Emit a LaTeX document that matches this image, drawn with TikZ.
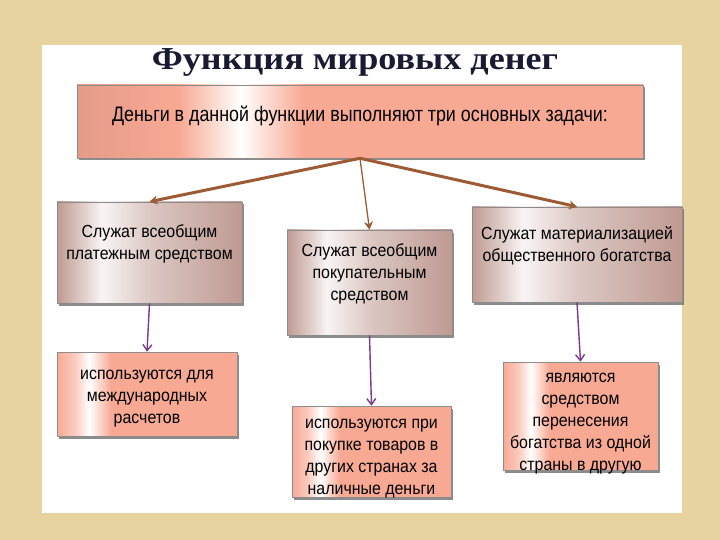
\documentclass[tikz,border=0pt]{standalone}
\usepackage{fontspec}
\setmainfont{Liberation Sans}[FakeStretch=0.91]
\newfontfamily\taskfont{Liberation Sans}[FakeStretch=0.85]
\newfontfamily\titlefont{Liberation Serif}[FakeStretch=1.13]
\usetikzlibrary{arrows.meta,shadows}

\definecolor{paper}{HTML}{E6D3A0}
\definecolor{salmon}{HTML}{F8A994}
\definecolor{mauve}{HTML}{BF9A92}
\definecolor{brownline}{HTML}{9C5A35}
\definecolor{purpleline}{HTML}{7D3A8C}
\definecolor{navy}{HTML}{1A1A33}

\pgfdeclarehorizontalshading{topglow}{100bp}{color(0bp)=(salmon!92!black); color(25bp)=(salmon!92!black); color(34bp)=(salmon); color(39.5bp)=(white); color(45bp)=(salmon); color(75bp)=(salmon); color(100bp)=(salmon)}
\pgfdeclarehorizontalshading{mauveglow}{100bp}{color(0bp)=(mauve); color(25bp)=(mauve); color(32bp)=(mauve!50!white); color(37bp)=(mauve!10!white); color(50bp)=(mauve!55!white); color(75bp)=(mauve); color(100bp)=(mauve)}
\pgfdeclarehorizontalshading{salmonglow}{100bp}{color(0bp)=(salmon); color(25bp)=(salmon); color(30bp)=(salmon!60!white); color(34bp)=(white); color(40bp)=(salmon); color(75bp)=(salmon); color(100bp)=(salmon)}

\begin{document}
\begin{tikzpicture}
	 [x=1pt,y=-1pt,
	 every node/.style={align=center,inner sep=0pt,font=\fontsize{17.5}{22}\selectfont},
	 box/.style={draw=black!45,line width=.6pt,
	   drop shadow={shadow xshift=1.5pt,shadow yshift=-2.5pt,fill=black!60,opacity=.75}},
	 taskbox/.style={box,shading=topglow,text depth=15pt,font=\taskfont\fontsize{21}{24}\selectfont},
	 rolebox/.style={box,shading=mauveglow,text depth=20pt},
	 usebox/.style={box,shading=salmonglow},
	 brownarrow/.style={draw=brownline,-{Stealth[length=8pt,width=9pt]}},
	 purplearrow/.style={draw=purpleline,line width=1.4pt,-{Straight Barb[length=6pt,width=9pt]}}]

  \fill[paper] (0,0) rectangle (720,540);
  \fill[white] (42,45) rectangle (682,513);

  \node[font=\titlefont\bfseries\fontsize{32}{36}\selectfont,text=navy] (title) at (355,62) {Функция мировых денег};

  \node[taskbox,minimum width=566pt,minimum height=73pt] (top) at (360,121.5) {Деньги в данной функции выполняют три основных задачи:};

  \node[rolebox,minimum width=185pt,minimum height=101pt] (b1) at (149.5,252.5) {Служат всеобщим\\платежным средством};
    \node[rolebox,minimum width=165pt,minimum height=105pt] (b2) at (369.5,282.5) {Служат всеобщим\\покупательным\\средством};
    \node[rolebox,minimum width=210pt,minimum height=95pt] (b3) at (577,254.5) {Служат материализацией\\общественного богатства};

  % text of the lower boxes sits a little below the middle
  \node[usebox,minimum width=180pt,minimum height=84pt,
    label={[yshift=-5pt]center:используются для\\международных\\расчетов}] (b4) at (147,394) {};
    \node[usebox,minimum width=159pt,minimum height=91pt,
    label={[yshift=-7pt]center:используются при\\покупке товаров в\\других странах за\\наличные деньги}] (b5) at (371.5,451.5) {};
    \node[usebox,minimum width=155pt,minimum height=108pt,
    label={[yshift=-8pt]center:являются\\средством\\перенесения\\богатства из одной\\страны в другую}] (b6) at (580.5,416) {};

  \foreach \to/\w in {b1/3pt,b2/1.3pt,b3/3pt}
    \draw[brownarrow,line width=\w] (top.south) -- (\to.north);
    \foreach \from/\to in {b1/b4,b2/b5,b3/b6}
    \draw[purplearrow] (\from.south) -- (\to.north);

\end{tikzpicture}
\end{document}
